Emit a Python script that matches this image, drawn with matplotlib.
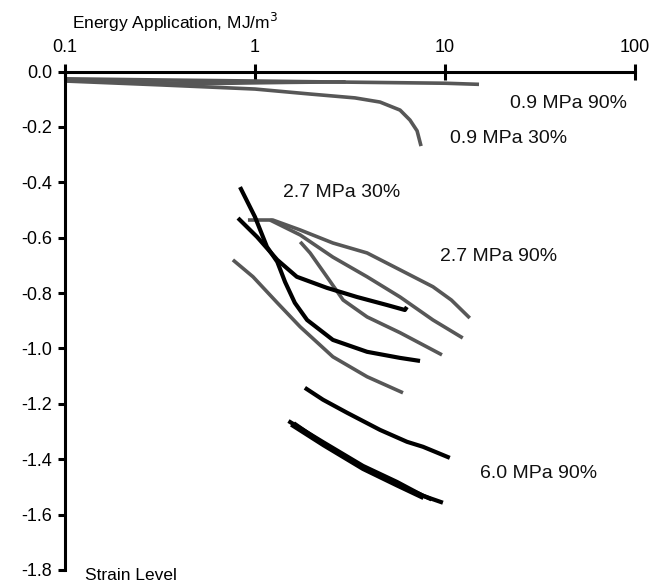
import numpy as np
import matplotlib.pyplot as plt

plt.rcParams['font.family'] = ['Liberation Sans', 'DejaVu Sans']
plt.rcParams['axes.unicode_minus'] = False

# energy application (MJ/m3) vs strain level
# 0.9 MPa, 90 %  (two near-flat runs)
e_09_90a = [0.1, 0.3, 1.0, 3.0, 10.0, 15.1]
s_09_90a = [-0.026, -0.030, -0.034, -0.038, -0.042, -0.046]
e_09_90b = [0.1, 0.2, 0.5, 0.9, 1.5, 3.0]
s_09_90b = [-0.032, -0.036, -0.044, -0.041, -0.039, -0.037]

# 0.9 MPa, 30 %
e_09_30 = [0.1, 0.316, 1.0, 1.95, 3.36, 4.55, 5.80, 6.54, 7.13, 7.48]
s_09_30 = [-0.034, -0.048, -0.063, -0.081, -0.095, -0.110, -0.139, -0.175, -0.214, -0.269]

# 2.7 MPa, 30 % (black)
e_27_30a = [0.834, 1.0, 1.156, 1.31, 1.44, 1.62, 1.88, 2.57, 3.89, 5.80, 7.39]
s_27_30a = [-0.417, -0.525, -0.633, -0.687, -0.760, -0.835, -0.897, -0.969, -1.012, -1.034, -1.045]
e_27_30b = [0.814, 1.025, 1.31, 1.66, 2.39, 3.44, 4.95, 6.15, 6.3]
s_27_30b = [-0.529, -0.597, -0.680, -0.741, -0.781, -0.814, -0.843, -0.861, -0.850]

# 2.7 MPa, 90 % (grey)
e_27_90a = [0.765, 0.976, 1.31, 1.73, 2.57, 3.89, 6.01]
s_27_90a = [-0.680, -0.741, -0.835, -0.922, -1.030, -1.102, -1.160]
e_27_90b = [0.918, 1.24, 1.73, 2.57, 3.89, 5.80, 8.64, 10.8, 13.5]
s_27_90b = [-0.536, -0.536, -0.572, -0.619, -0.655, -0.716, -0.777, -0.825, -0.890]
e_27_90c = [1.20, 1.73, 2.57, 3.89, 5.80, 8.64, 12.4]
s_27_90c = [-0.536, -0.590, -0.670, -0.741, -0.814, -0.897, -0.962]
e_27_90d = [1.73, 1.95, 2.39, 2.91, 3.89, 5.80, 9.64]
s_27_90d = [-0.615, -0.655, -0.741, -0.825, -0.886, -0.943, -1.023]

# 6.0 MPa, 90 % (black)
e_60_a = [1.83, 2.28, 3.05, 4.55, 6.31, 7.66, 10.6]
s_60_a = [-1.142, -1.185, -1.232, -1.294, -1.337, -1.355, -1.395]
e_60_b = [1.50, 2.28, 3.70, 5.59, 7.66, 9.75]
s_60_b = [-1.262, -1.338, -1.424, -1.482, -1.532, -1.557]
e_60_c = [1.55, 2.30, 3.70, 5.60, 7.70]
s_60_c = [-1.275, -1.350, -1.435, -1.495, -1.540]
e_60_d = [1.60, 2.30, 3.70, 5.60, 8.50]
s_60_d = [-1.270, -1.345, -1.430, -1.490, -1.545]

labels = ['0.9 MPa 90%', '0.9 MPa 30%', '2.7 MPa 30%', '2.7 MPa 90%', '6.0 MPa 90%']
label_x = [22.0, 10.6, 1.40, 9.4, 15.3]
label_y = [-0.117, -0.240, -0.438, -0.669, -1.453]

x_ticks = [0.1, 1, 10, 100]
x_tick_labels = ['0.1', '1', '10', '100']
y_ticks = [0.0, -0.2, -0.4, -0.6, -0.8, -1.0, -1.2, -1.4, -1.6, -1.8]

GREY = '#575757'
BLACK = '#000000'

fig = plt.figure(figsize=(6.66, 5.85), dpi=100)
ax = fig.add_axes([65 / 666, 1 - 570 / 585, 570 / 666, (570 - 71.6) / 585])

grey_runs = [(e_09_90a, s_09_90a), (e_09_90b, s_09_90b), (e_09_30, s_09_30),
             (e_27_90a, s_27_90a), (e_27_90b, s_27_90b), (e_27_90c, s_27_90c),
             (e_27_90d, s_27_90d)]
black_runs = [(e_27_30a, s_27_30a), (e_27_30b, s_27_30b),
              (e_60_a, s_60_a), (e_60_b, s_60_b), (e_60_c, s_60_c), (e_60_d, s_60_d)]

for e, s in grey_runs:
    ax.plot(e, s, color=GREY, lw=2.6, solid_capstyle='butt', solid_joinstyle='round')
for e, s in black_runs:
    ax.plot(e, s, color=BLACK, lw=3.0, solid_capstyle='butt', solid_joinstyle='round')

for t, x, y in zip(labels, label_x, label_y):
    ax.text(x, y, t, fontsize=14, ha='left', va='center', color='#111111')

ax.set_xscale('log')
ax.set_xlim(0.1, 100)
ax.set_ylim(-1.8, 0.0)
ax.set_xticks(x_ticks)
ax.set_xticklabels(x_tick_labels)
ax.xaxis.set_minor_locator(plt.NullLocator())
ax.set_yticks(y_ticks)
ax.set_yticklabels(['%.1f' % v for v in y_ticks])

ax.xaxis.tick_top()
ax.spines['bottom'].set_visible(False)
ax.spines['right'].set_visible(False)
ax.spines['top'].set_linewidth(2.2)
ax.spines['left'].set_linewidth(2.2)
ax.tick_params(axis='x', direction='inout', length=11, width=2.2, labelsize=13, pad=6)
ax.tick_params(axis='y', direction='out', length=5, width=2.2, labelsize=13, pad=4)

fig.text(72 / 666, 1 - 22 / 585, 'Energy Application, MJ/m$^3$', fontsize=12.5,
         ha='left', va='center')
fig.text(85 / 666, 1 - 576 / 585, 'Strain Level', fontsize=12.5, ha='left', va='center')

fig.savefig('out.png', dpi=100)
